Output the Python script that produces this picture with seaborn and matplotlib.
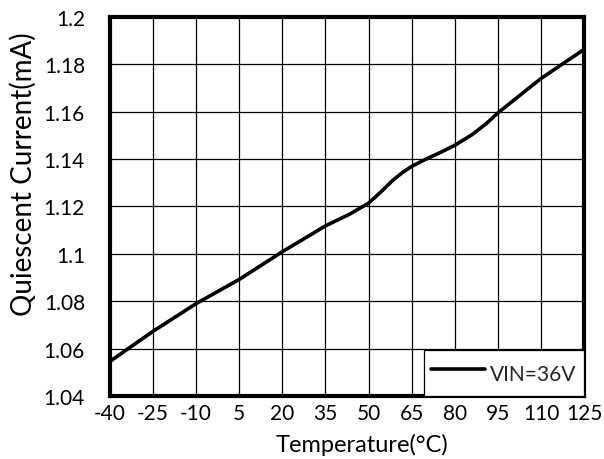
import matplotlib
matplotlib.use("Agg")
import matplotlib.pyplot as plt
import seaborn as sns
import pandas as pd

# Quiescent current vs. temperature at VIN = 36 V
temperature_c = [-40, -25, -10, 5, 20, 35, 43.5, 50, 54, 58.5, 62, 65, 70, 75,
                 80, 86, 91, 95, 101, 110, 125]
current_ma = [1.0546, 1.0673, 1.0790, 1.0892, 1.1009, 1.1118, 1.1168, 1.1214,
              1.1258, 1.1311, 1.1345, 1.1369, 1.1400, 1.1428, 1.1458, 1.1503,
              1.1550, 1.1595, 1.1653, 1.1740, 1.1863]
series_label = "VIN=36V"

x_ticks = [-40, -25, -10, 5, 20, 35, 50, 65, 80, 95, 110, 125]
y_ticks = [1.04, 1.06, 1.08, 1.10, 1.12, 1.14, 1.16, 1.18, 1.20]
y_tick_labels = ["1.04", "1.06", "1.08", "1.1", "1.12", "1.14", "1.16", "1.18", "1.2"]

sns.set_theme(style="white")
plt.rcParams["font.family"] = ["Lato", "DejaVu Sans"]

df = pd.DataFrame({"Temperature": temperature_c, "Current": current_ma,
                   "Series": series_label})

fig = plt.figure(figsize=(6.04, 4.60), dpi=100)
ax = fig.add_axes([0.182, 0.137, 0.785, 0.824])

sns.lineplot(data=df, x="Temperature", y="Current", hue="Series",
             palette=["black"], linewidth=2.6, ax=ax, zorder=3)

ax.set_xlim(-40, 125)
ax.set_ylim(1.04, 1.20)
ax.set_xticks(x_ticks)
ax.set_xticklabels([str(t) for t in x_ticks])
ax.set_yticks(y_ticks)
ax.set_yticklabels(y_tick_labels)

ax.grid(True, color="black", linewidth=0.9)
ax.set_axisbelow(True)
for s in ax.spines.values():
    s.set_visible(True)
    s.set_color("black")
    s.set_linewidth(3.0)

ax.tick_params(axis="both", which="both", length=0, labelsize=15, colors="black")
ax.tick_params(axis="x", pad=5)
ax.tick_params(axis="y", pad=18)

ax.set_xlabel("Temperature(°C)", fontsize=17, color="black")
ax.xaxis.set_label_coords(0.532, -0.098)
ax.set_ylabel("Quiescent Current(mA)", fontsize=20, color="black")
ax.yaxis.set_label_coords(-0.155, 0.588)

leg = ax.legend(loc="lower right", bbox_to_anchor=(1.0, 0.0), fontsize=15,
                frameon=True, fancybox=False, handlelength=2.55,
                handleheight=1.85, borderaxespad=0.0, borderpad=0.38,
                handletextpad=0.25)
leg.get_frame().set_edgecolor("black")
leg.get_frame().set_linewidth(0.9)
leg.get_frame().set_facecolor("white")
leg.get_frame().set_alpha(1)
leg.set_title(None)
for line in leg.get_lines():
    line.set_linewidth(2.6)
leg.set_zorder(5)

fig.savefig("out.png", dpi=100)
